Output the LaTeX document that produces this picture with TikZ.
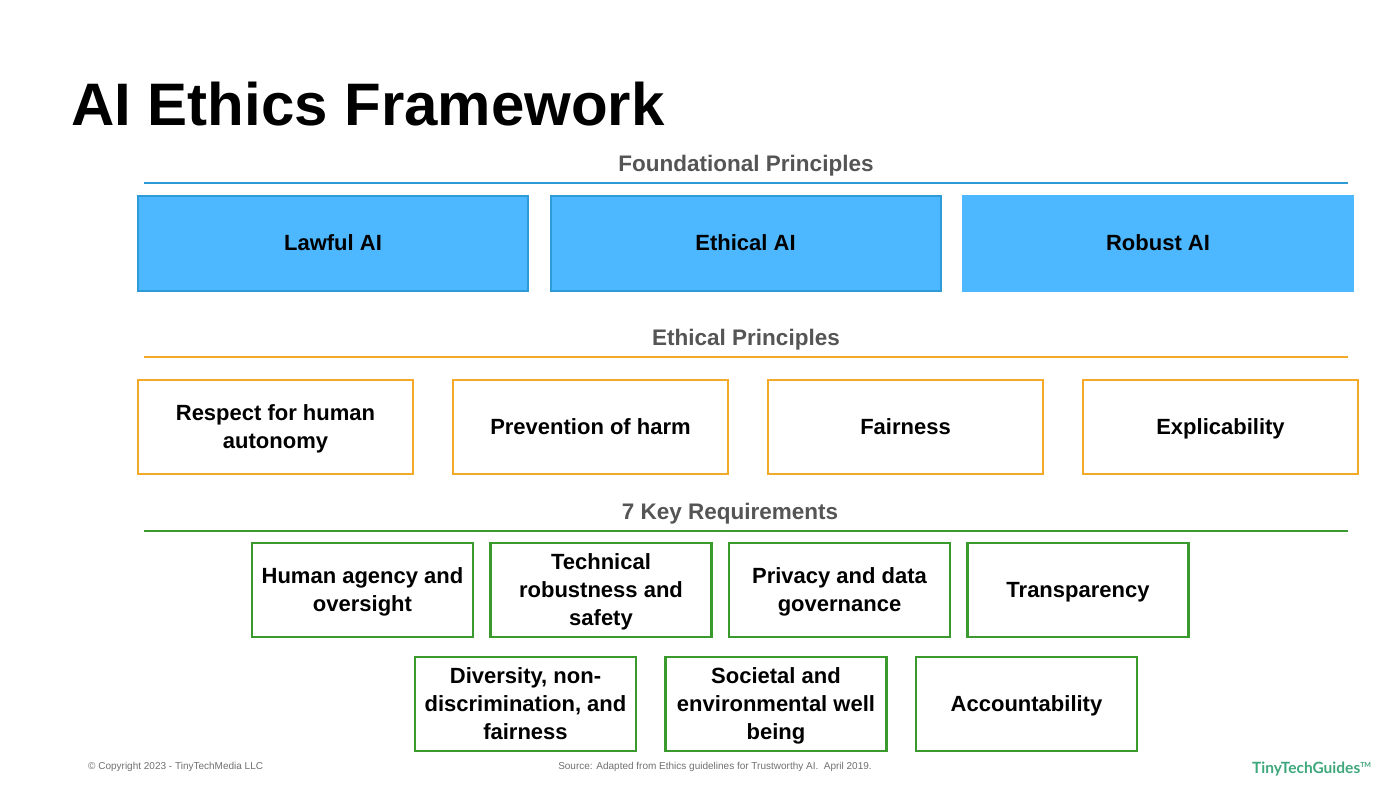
\documentclass[tikz,border=0pt]{standalone}
\usepackage{fontspec}
\setmainfont{Liberation Sans}
\newfontfamily\logofont{Lato}
\usetikzlibrary{positioning}
\definecolor{fndblue}{HTML}{4DB8FF}
\definecolor{fndedge}{HTML}{2E9AD6}
\definecolor{ethorange}{HTML}{F2AA28}
\definecolor{reqgreen}{HTML}{3A9A2E}
\definecolor{headgrey}{HTML}{555555}
\definecolor{notegrey}{HTML}{707070}
\definecolor{logogreen}{HTML}{3FA77C}
\newcommand{\boxfont}{\fontsize{22}{28}\selectfont\bfseries}

\begin{document}
\begin{tikzpicture}[x=1pt, y=-1pt,
  fndbox/.style = {draw=fndedge, fill=fndblue, line width=2pt, outer sep=0pt,
                   minimum width=390pt, minimum height=95pt, font=\boxfont},
  ethbox/.style = {draw=ethorange, fill=white, line width=2.2pt, outer sep=0pt, text depth=0pt,
                   minimum width=275pt, minimum height=94pt, align=center, font=\boxfont},
  reqbox/.style = {draw=reqgreen, fill=white, line width=2.2pt, outer sep=0pt, inner sep=2pt,
                   text depth=0pt, minimum width=221pt, minimum height=94pt, align=center,
                   font=\boxfont},
  head/.style   = {anchor=base, inner sep=0pt, text=headgrey,
                   font=\fontsize{22.5}{27}\selectfont\bfseries},
  rule/.style   = {draw=#1, line width=2.6pt},
  foot/.style   = {anchor=base, inner sep=0pt, text=notegrey, font=\fontsize{10}{12}\selectfont},
]
\fill[white] (0,0) rectangle (1400,788);
\useasboundingbox (0,0) rectangle (1400,788);

\node[anchor=base west, inner sep=0pt, font=\fontsize{60}{70}\selectfont\bfseries] (title) at (71,125) {AI Ethics Framework};

% foundational principles
\node[head] (fndhead) at (746,171) {Foundational Principles};
\coordinate (fndL) at (144,183);
\coordinate (fndR) at (1348,183);
\draw[rule=fndedge] (fndL) -- (fndR);
\node[fndbox] (lawful) at (333,243) {Lawful AI};
\node[fndbox, right=22.5pt of lawful] (ethical) {Ethical AI};
\node[fndbox, draw=fndblue, right=22.5pt of ethical] (robust) {Robust AI};

% ethical principles
\node[head] (ethhead) at (746,345) {Ethical Principles};
\coordinate (ethL) at (144,357);
\coordinate (ethR) at (1348,357);
\draw[rule=ethorange] (ethL) -- (ethR);
\node[ethbox] (autonomy) at (275.5,427) {Respect for human\\autonomy};
\node[ethbox, right=40pt of autonomy] (harm) {Prevention of harm};
\node[ethbox, right=40pt of harm] (fair) {Fairness};
\node[ethbox, right=40pt of fair] (explic) {Explicability};

% key requirements
\node[head] (reqhead) at (730,519) {7 Key Requirements};
\coordinate (reqL) at (144,531);
\coordinate (reqR) at (1348,531);
\draw[rule=reqgreen] (reqL) -- (reqR);
\node[reqbox] (agency) at (362.5,590) {Human agency and\\oversight};
\node[reqbox, right=17.5pt of agency] (robustness) {Technical\\robustness and\\safety};
\node[reqbox, right=17.5pt of robustness] (privacy) {Privacy and data\\governance};
\node[reqbox, right=17.5pt of privacy] (transp) {Transparency};
\node[reqbox] (diversity) at (525.5,704) {Diversity, non-\\discrimination, and\\fairness};
\node[reqbox, right=29.5pt of diversity] (societal) {Societal and\\environmental well\\being};
\node[reqbox, right=29.5pt of societal] (account) {Accountability};

% footer
\node[foot, anchor=base west] (copy) at (88,769) {\textcopyright{} Copyright 2023 - TinyTechMedia LLC};
\node[foot] (source) at (715,769) {Source: Adapted from Ethics guidelines for Trustworthy AI.\ \ April 2019.};
\node[anchor=base west, inner sep=0pt, text=logogreen, font=\logofont\fontsize{15.5}{18}\selectfont\bfseries] (logo) at (1252,773) {TinyTechGuides{\fontsize{7}{8}\selectfont\raisebox{6pt}{TM}}};
\end{tikzpicture}
\end{document}
